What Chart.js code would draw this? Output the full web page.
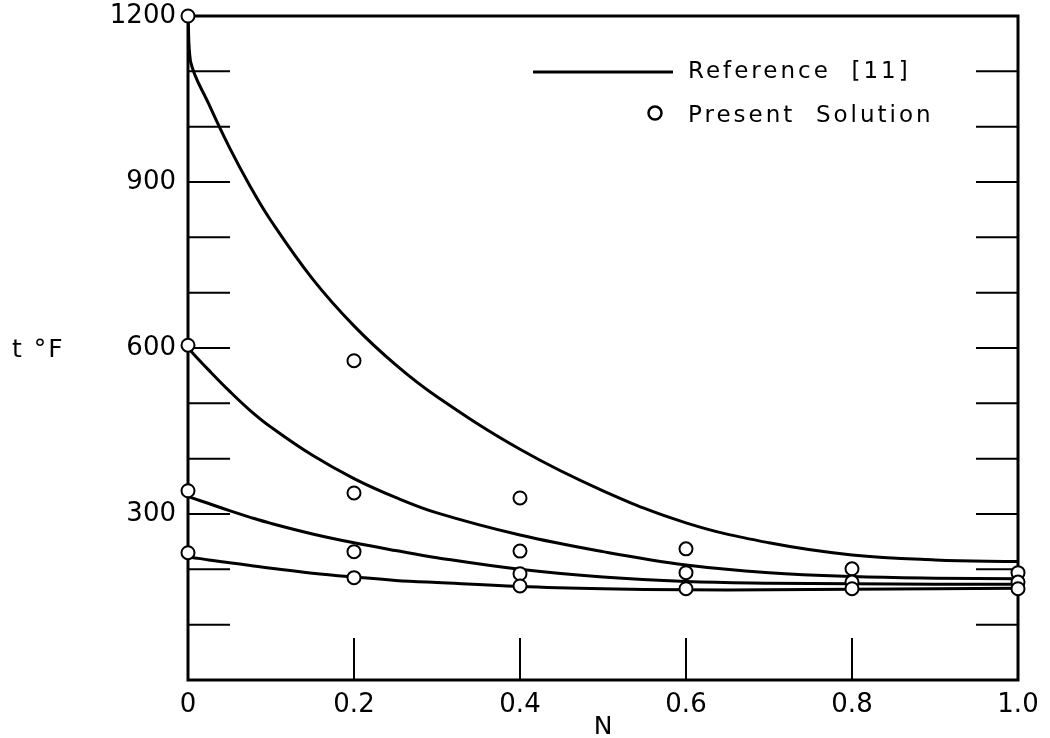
<!DOCTYPE html>
<html>
<head>
<meta charset="utf-8">
<script src="https://cdn.jsdelivr.net/npm/chart.js@4.4.1/dist/chart.umd.min.js"></script>
<style>
  body { margin: 0; background: #fff; }
  #wrap { width: 1050px; height: 738px; }
</style>
</head>
<body>
<div id="wrap"><canvas id="myChart" width="1050" height="738"></canvas></div>
<script>
// N positions where the reference curves were read
const refN = [0, 0.003, 0.025, 0.05, 0.075, 0.1, 0.15, 0.2, 0.25, 0.3, 0.4, 0.5, 0.6, 0.7, 0.8, 0.9, 1.0];
// Reference [11] curves, t in deg F
const ref1200 = [1200, 1118, 1041, 962, 892, 830, 725, 640, 570, 512, 417, 342, 284, 248, 226, 217, 214];
const ref600 = [600, 595, 560, 522, 487, 457, 406, 364, 330, 302, 262, 232, 208, 194, 187, 184, 183];
const ref330 = [332, 330, 319, 306, 294, 283, 264, 248, 234, 221, 200, 186, 178, 175, 174, 173, 173];
const ref220 = [222, 222, 217, 212, 207, 202, 193, 186, 180, 176, 169, 165, 163, 163, 164, 165, 166];

// Present solution (circles)
const solN = [0, 0, 0, 0, 0.2, 0.2, 0.2, 0.2, 0.4, 0.4, 0.4, 0.4, 0.6, 0.6, 0.6, 0.8, 0.8, 0.8, 1.0, 1.0, 1.0];
const solT = [1200, 605, 342, 230, 577, 338, 232, 185, 329, 233, 192, 170, 237, 194, 165, 201, 177, 165, 194, 177, 165];

const yTickStep = 100;
const yLabelStep = 300;
const xTickStep = 0.2;

const font = 'DejaVu Sans';

function pts(xs, ys) {
  return xs.map((x, i) => ({ x: x, y: ys[i] }));
}

function curve(vals) {
  return {
    type: 'line',
    label: 'Reference [11]',
    data: pts(refN, vals),
    borderColor: '#000',
    borderWidth: 3,
    pointRadius: 0,
    fill: false,
    tension: 0.4,
    order: 1
  };
}

// box, inward ticks, in-plot legend and axis titles
const frame = {
  id: 'frame',
  beforeDatasetsDraw(chart) {
    const { ctx, chartArea: a, scales } = chart;
    ctx.save();
    ctx.strokeStyle = '#000';
    ctx.lineWidth = 2;
    scales.y.ticks.forEach(t => {
      if (t.value <= 0 || t.value >= 1200) return;
      const y = scales.y.getPixelForValue(t.value);
      ctx.beginPath();
      ctx.moveTo(a.left, y); ctx.lineTo(a.left + 42, y);
      ctx.moveTo(a.right - 42, y); ctx.lineTo(a.right, y);
      ctx.stroke();
    });
    scales.x.ticks.forEach(t => {
      if (t.value <= 0 || t.value >= 1) return;
      const x = scales.x.getPixelForValue(t.value);
      ctx.beginPath();
      ctx.moveTo(x, a.bottom); ctx.lineTo(x, a.bottom - 42);
      ctx.stroke();
    });
    ctx.lineWidth = 3;
    ctx.strokeRect(a.left, a.top, a.right - a.left, a.bottom - a.top);
    ctx.restore();
  },
  afterDraw(chart) {
    const { ctx, chartArea: a } = chart;
    ctx.save();
    ctx.fillStyle = '#000';
    ctx.strokeStyle = '#000';
    // legend
    ctx.lineWidth = 3;
    ctx.beginPath();
    ctx.moveTo(533, 72); ctx.lineTo(673, 72);
    ctx.stroke();
    ctx.lineWidth = 2.5;
    ctx.beginPath();
    ctx.arc(655, 113, 6.5, 0, Math.PI * 2);
    ctx.stroke();
    ctx.font = '23px "' + font + '"';
    ctx.letterSpacing = '3px';
    ctx.textAlign = 'left';
    ctx.textBaseline = 'alphabetic';
    ctx.fillText('Reference  [11]', 688, 78);
    ctx.fillText('Present  Solution', 688, 122);
    // axis titles
    ctx.font = '25px "' + font + '"';
    ctx.letterSpacing = '2px';
    ctx.textBaseline = 'middle';
    ctx.fillText('t °F', 12, 350);
    ctx.textAlign = 'center';
    ctx.letterSpacing = '0px';
    ctx.fillText('N', (a.left + a.right) / 2, 727);
    ctx.restore();
  }
};

const ctx = document.getElementById('myChart');

new Chart(ctx, {
  data: {
    datasets: [
      {
        type: 'scatter',
        label: 'Present Solution',
        data: pts(solN, solT),
        pointRadius: 6.5,
        pointBorderWidth: 2,
        pointBackgroundColor: '#fff',
        pointBorderColor: '#000',
        clip: false,
        order: 0
      },
      curve(ref1200),
      curve(ref600),
      curve(ref330),
      curve(ref220)
    ]
  },
  options: {
    responsive: false,
    animation: false,
    layout: { padding: { left: 0, right: 32, top: 16, bottom: 0 } },
    plugins: { legend: { display: false }, tooltip: { enabled: false } },
    scales: {
      x: {
        type: 'linear',
        min: 0,
        max: 1,
        grid: { display: false, drawTicks: false },
        border: { display: false },
        afterFit: s => { s.height = 58; s.paddingLeft = 0; s.paddingRight = 0; },
        ticks: {
          stepSize: xTickStep,
          padding: 10,
          color: '#000',
          font: { family: font, size: 26 },
          callback: v => v === 0 ? '0' : v.toFixed(1)
        }
      },
      y: {
        min: 0,
        max: 1200,
        grid: { display: false, drawTicks: false },
        border: { display: false },
        afterFit: s => { s.width = 188; s.paddingTop = 0; s.paddingBottom = 0; },
        ticks: {
          stepSize: yTickStep,
          padding: 12,
          color: '#000',
          font: { family: font, size: 26 },
          autoSkip: false,
          callback: v => (v > 0 && v % yLabelStep === 0) ? String(v) : ''
        }
      }
    }
  },
  plugins: [frame]
});
</script>
</body>
</html>
